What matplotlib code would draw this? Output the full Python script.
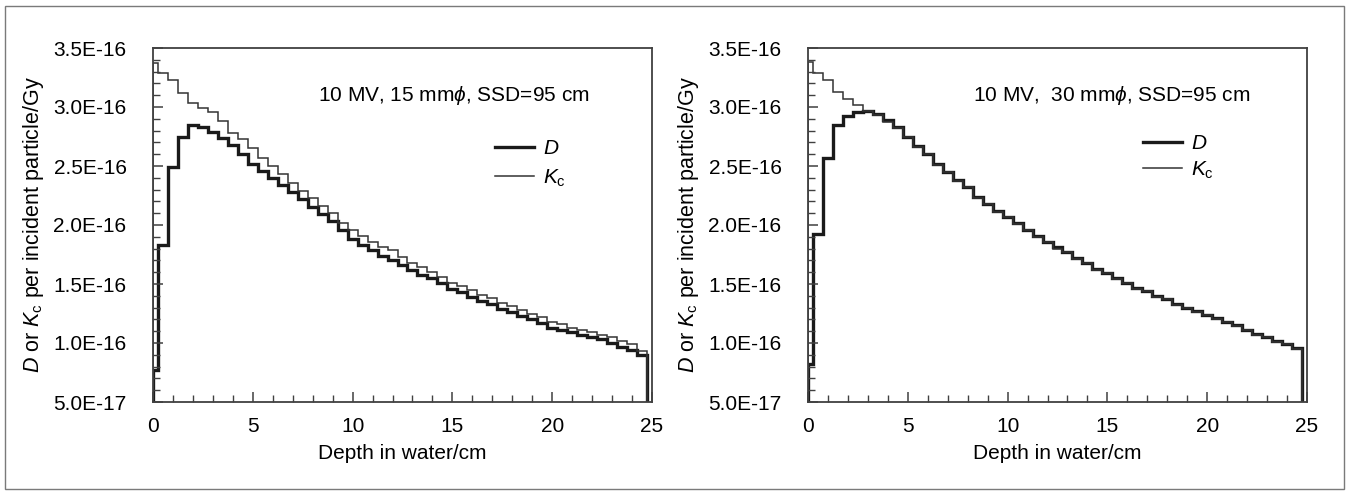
import numpy as np
import matplotlib
matplotlib.use("Agg")
from matplotlib import pyplot as plt
from matplotlib.patches import Rectangle
from matplotlib.ticker import MultipleLocator

plt.rcParams["font.family"] = ["Liberation Sans", "DejaVu Sans"]
plt.rcParams["mathtext.fontset"] = "custom"
plt.rcParams["mathtext.rm"] = "Liberation Sans"
plt.rcParams["mathtext.it"] = "Liberation Sans:italic"

# depth bins (cm): first half bin 0-0.25, then 0.5 cm bins up to 24.75
depth_edges = np.concatenate(([0.0], np.arange(0.25, 24.76, 0.5)))

# values in units of 1e-16 Gy per incident particle
dose_15 = [0.77, 1.83, 2.49, 2.75, 2.85, 2.83, 2.79, 2.74, 2.68, 2.60,
           2.52, 2.46, 2.40, 2.34, 2.28, 2.22, 2.15, 2.09, 2.03, 1.96,
           1.88, 1.83, 1.79, 1.74, 1.70, 1.66, 1.62, 1.58, 1.55, 1.51,
           1.46, 1.43, 1.39, 1.36, 1.33, 1.29, 1.26, 1.23, 1.20, 1.17,
           1.13, 1.11, 1.09, 1.07, 1.05, 1.03, 1.00, 0.97, 0.94, 0.90]
kerma_15 = [3.37, 3.29, 3.23, 3.12, 3.03, 2.99, 2.96, 2.88, 2.78, 2.73,
            2.65, 2.57, 2.50, 2.43, 2.36, 2.29, 2.23, 2.16, 2.10, 2.02,
            1.96, 1.91, 1.86, 1.81, 1.79, 1.73, 1.68, 1.64, 1.60, 1.56,
            1.51, 1.48, 1.45, 1.41, 1.38, 1.34, 1.31, 1.28, 1.25, 1.22,
            1.18, 1.16, 1.13, 1.11, 1.09, 1.07, 1.05, 1.02, 0.99, 0.93]
dose_30 = [0.82, 1.92, 2.57, 2.85, 2.92, 2.96, 2.97, 2.94, 2.89, 2.83,
           2.75, 2.67, 2.60, 2.52, 2.45, 2.38, 2.32, 2.24, 2.18, 2.12,
           2.07, 2.02, 1.96, 1.91, 1.86, 1.81, 1.77, 1.72, 1.68, 1.63,
           1.59, 1.55, 1.51, 1.47, 1.44, 1.40, 1.37, 1.33, 1.30, 1.27,
           1.24, 1.21, 1.18, 1.15, 1.11, 1.08, 1.05, 1.02, 0.99, 0.96]
kerma_30 = [3.38, 3.29, 3.23, 3.13, 3.07, 3.02, 2.97, 2.93, 2.87, 2.82,
            2.75, 2.66, 2.60, 2.51, 2.45, 2.37, 2.32, 2.23, 2.18, 2.11,
            2.07, 2.01, 1.96, 1.90, 1.86, 1.80, 1.77, 1.71, 1.68, 1.62,
            1.59, 1.54, 1.51, 1.46, 1.44, 1.39, 1.37, 1.32, 1.30, 1.26,
            1.24, 1.20, 1.18, 1.14, 1.11, 1.07, 1.05, 1.01, 0.99, 0.95]

y_ticks = [5e-17, 1e-16, 1.5e-16, 2e-16, 2.5e-16, 3e-16, 3.5e-16]
y_tick_labels = ["5.0E-17", "1.0E-16", "1.5E-16", "2.0E-16", "2.5E-16", "3.0E-16", "3.5E-16"]

titles = [r"10 MV, 15 mm$\phi$, SSD=95 cm", r"10 MV,  30 mm$\phi$, SSD=95 cm"]
panels = [(dose_15, kerma_15), (dose_30, kerma_30)]

FS = 15
INK = "#1a1a1a"

fig = plt.figure(figsize=(13.5, 4.95), dpi=100)
fig.patches.append(Rectangle((5 / 1350, 6 / 495), 1339 / 1350, 483 / 495,
                             transform=fig.transFigure, fill=False,
                             edgecolor="#7a7a7a", linewidth=1.0))

lefts = [153 / 1350, 808 / 1350]
legend_pos = [(0.685, 0.742), (0.671, 0.757)]
legend_gap = [0.45, 0.3]

for i, (dose, kerma) in enumerate(panels):
    ax = fig.add_axes([lefts[i], 1 - 402 / 495, 499 / 1350, 354 / 495])
    ax.stairs(np.array(dose) * 1e-16, depth_edges, baseline=5e-17,
              color=INK, linewidth=2.4, label=r"$\mathit{D}$")
    ax.stairs(np.array(kerma) * 1e-16, depth_edges, baseline=5e-17,
              color="#333333", linewidth=1.1, label=r"$\mathit{K}_\mathrm{c}$")

    ax.set_xlim(0, 25)
    ax.set_ylim(5e-17, 3.5e-16)
    ax.xaxis.set_major_locator(MultipleLocator(5))
    ax.xaxis.set_minor_locator(MultipleLocator(1))
    ax.set_yticks(y_ticks)
    ax.set_yticklabels(y_tick_labels)
    ax.yaxis.set_minor_locator(MultipleLocator(1e-17))
    ax.tick_params(which="both", direction="in", top=False, right=False,
                   colors="#404040", labelcolor="black", labelsize=FS)
    ax.tick_params(which="major", length=7, width=1.1)
    ax.tick_params(which="minor", length=5, width=1.0)
    ax.tick_params(axis="x", pad=11)
    ax.tick_params(axis="y", pad=19)
    for s in ax.spines.values():
        s.set_color("#404040")
        s.set_linewidth(1.3)

    ax.set_xlabel("Depth in water/cm", fontsize=FS)
    ax.xaxis.set_label_coords(0.5, -0.118)
    ax.set_ylabel(r"$\mathit{D}$ or $\mathit{K}_\mathrm{c}$ per incident particle/Gy",
                  fontsize=15.5)
    ax.yaxis.set_label_coords(-0.214, 0.5)

    ax.text(0.331, 0.866, titles[i], transform=ax.transAxes, fontsize=FS,
            ha="left", va="center")
    ax.legend(loc="upper left", bbox_to_anchor=legend_pos[i], frameon=False,
              fontsize=FS, handlelength=1.9, handletextpad=0.4,
              labelspacing=legend_gap[i], borderpad=0, borderaxespad=0)

fig.savefig("out.png", dpi=100)
